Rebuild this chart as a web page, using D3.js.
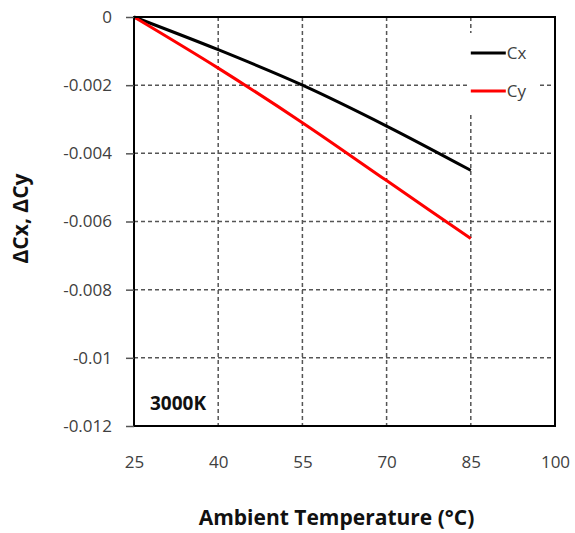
<!DOCTYPE html>
<html>
<head>
<meta charset="utf-8">
<script src="https://cdn.jsdelivr.net/npm/d3@7"></script>
<style>
  body { margin: 0; background: #fff; }
  text { font-family: "Open Sans", "Liberation Sans", sans-serif; }
</style>
</head>
<body>
<div id="chart"></div>
<script>
  var temps = [25, 40, 55, 70, 85];
  var cx = [0, -0.00096, -0.002, -0.0032, -0.0045];
  var cy = [0, -0.0015, -0.0031, -0.0048, -0.0065];
  var xTicks = [25, 40, 55, 70, 85, 100];
  var yTicks = [0, -0.002, -0.004, -0.006, -0.008, -0.01, -0.012];
  var seriesNames = ['Cx', 'Cy'];
  var colours = ['#000000', '#ff0000'];

  var width = 575, height = 533;
  var margin = {top: 17, right: 20, bottom: 107, left: 134};
  var w = width - margin.left - margin.right,
      h = height - margin.top - margin.bottom;

  var svg = d3.select('#chart')
    .append('svg')
    .attr('width', width)
    .attr('height', height);

  var g = svg.append('g')
    .attr('transform', 'translate(' + margin.left + ',' + margin.top + ')');

  var x = d3.scaleLinear().domain([25, 100]).range([0, w]);
  var y = d3.scaleLinear().domain([-0.012, 0]).range([h, 0]);

  // grid
  g.selectAll('.vgrid')
    .data(xTicks.slice(1, -1))
    .enter().append('line')
    .attr('x1', function(d) { return x(d); })
    .attr('x2', function(d) { return x(d); })
    .attr('y1', 0).attr('y2', h)
    .attr('stroke', '#555').attr('stroke-width', 1.5)
    .attr('stroke-dasharray', '4,3');

  g.selectAll('.hgrid')
    .data(yTicks.slice(1, -1))
    .enter().append('line')
    .attr('x1', 0).attr('x2', w)
    .attr('y1', function(d) { return y(d); })
    .attr('y2', function(d) { return y(d); })
    .attr('stroke', '#555').attr('stroke-width', 1.5)
    .attr('stroke-dasharray', '4,3');

  // label and legend backgrounds cover grid
  g.append('rect')
    .attr('x', 11).attr('y', h - 42).attr('width', 70).attr('height', 32)
    .attr('fill', '#fff');
  g.append('text')
    .attr('x', 16).attr('y', h - 16)
    .attr('font-size', 19).attr('font-weight', 'bold')
    .attr('fill', '#111')
    .text('3000K');

  var legend = g.append('g').attr('transform', 'translate(' + (x(85) - 3) + ',16)');
  legend.append('rect')
    .attr('x', 0).attr('y', 0).attr('width', 72).attr('height', 80)
    .attr('fill', '#fff');
  seriesNames.forEach(function(name, i) {
    var ly = 20 + i * 38;
    legend.append('line')
      .attr('x1', 3).attr('x2', 38)
      .attr('y1', ly).attr('y2', ly)
      .attr('stroke', colours[i]).attr('stroke-width', 3);
    legend.append('text')
      .attr('x', 39).attr('y', ly + 6)
      .attr('font-size', 17).attr('fill', '#404040')
      .text(name);
  });

  // lines
  var line = d3.line()
    .curve(d3.curveMonotoneX)
    .x(function(d) { return x(d[0]); })
    .y(function(d) { return y(d[1]); });

  [cx, cy].forEach(function(vals, i) {
    g.append('path')
      .datum(temps.map(function(t, j) { return [t, vals[j]]; }))
      .attr('d', line)
      .attr('fill', 'none')
      .attr('stroke', colours[i])
      .attr('stroke-width', 3);
  });

  // frame
  g.append('rect')
    .attr('x', 0).attr('y', 0).attr('width', w).attr('height', h)
    .attr('fill', 'none').attr('stroke', '#000').attr('stroke-width', 2);

  // axes
  var yAxis = d3.axisLeft(y).tickValues(yTicks).tickSize(8).tickPadding(14)
    .tickFormat(function(d) { return d === 0 ? '0' : String(d); });
  var ya = g.append('g').call(yAxis);
  ya.select('.domain').remove();
  ya.selectAll('.tick line').attr('stroke', '#555').attr('stroke-width', 1.5);
  ya.selectAll('.tick text')
    .attr('font-size', 17).attr('fill', '#404040')
    .style('font-family', '"Open Sans", sans-serif');

  var xAxis = d3.axisBottom(x).tickValues(xTicks).tickSize(0).tickPadding(30);
  var xa = g.append('g').attr('transform', 'translate(0,' + h + ')').call(xAxis);
  xa.select('.domain').remove();
  xa.selectAll('.tick text')
    .attr('font-size', 17).attr('fill', '#404040')
    .style('font-family', '"Open Sans", sans-serif');

  // axis titles
  svg.append('text')
    .attr('x', margin.left + w / 2 - 8).attr('y', 525)
    .attr('text-anchor', 'middle')
    .attr('font-size', 21).attr('font-weight', 'bold').attr('fill', '#111')
    .text('Ambient Temperature (°C)');

  svg.append('text')
    .attr('transform', 'translate(28,' + (margin.top + h / 2 - 3) + ') rotate(-90)')
    .attr('text-anchor', 'middle')
    .attr('font-size', 21).attr('font-weight', 'bold').attr('fill', '#111')
    .text('ΔCx, ΔCy');
</script>
</body>
</html>
